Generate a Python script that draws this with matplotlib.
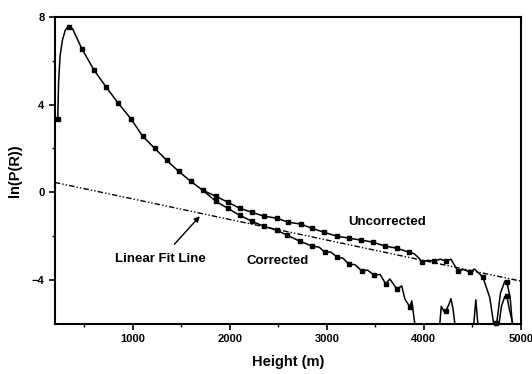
import matplotlib
matplotlib.use('Agg')
import matplotlib.pyplot as plt

plt.rcParams['font.family'] = ['Liberation Sans', 'DejaVu Sans']
plt.rcParams['font.weight'] = 'bold'

# shared start of both curves (line points)
start_h = [227, 235, 250, 275, 305, 340, 380, 474, 598, 722, 845, 979, 1103,
           1227, 1351, 1474, 1598, 1722]
start_v = [3.4, 5.0, 6.2, 6.95, 7.4, 7.6, 7.45, 6.55, 5.59, 4.82, 4.09, 3.36,
           2.55, 2.0, 1.45, 0.95, 0.5, 0.09]
start_mh = [227, 340, 474, 598, 722, 845, 979, 1103, 1227, 1351, 1474, 1598, 1722]
start_mv = [3.36, 7.55, 6.55, 5.59, 4.82, 4.09, 3.36, 2.55, 2.0, 1.45, 0.95, 0.5, 0.09]

# uncorrected tail
unc_h = [1856, 1979, 2103, 2227, 2351, 2485, 2598, 2732, 2845, 2969, 3103, 3227,
         3351, 3474, 3598, 3722, 3845, 3900, 3950, 3979, 4040, 4103, 4170, 4227,
         4280, 4351, 4410, 4474, 4520, 4608, 4680, 4730, 4742, 4790, 4835, 4856,
         4890, 4918]
unc_v = [-0.18, -0.45, -0.73, -0.91, -1.09, -1.18, -1.36, -1.45, -1.64, -1.82,
         -2.0, -2.09, -2.18, -2.27, -2.45, -2.55, -2.73, -2.8, -3.0, -3.18, -3.1,
         -3.14, -3.05, -3.14, -3.05, -3.59, -3.52, -3.64, -3.5, -3.86, -4.8,
         -6.3, -6.3, -4.6, -4.05, -4.09, -4.8, -6.3]
unc_mh = [1856, 1979, 2103, 2227, 2351, 2485, 2598, 2732, 2845, 2969, 3103, 3227,
          3351, 3474, 3598, 3722, 3845, 3979, 4103, 4227, 4351, 4474, 4608,
          4742, 4856]
unc_mv = [-0.18, -0.45, -0.73, -0.91, -1.09, -1.18, -1.36, -1.45, -1.64, -1.82,
          -2.0, -2.09, -2.18, -2.27, -2.45, -2.55, -2.73, -3.18, -3.14, -3.14,
          -3.59, -3.64, -3.86, -5.95, -4.09]

# corrected tail
cor_h = [1856, 1979, 2103, 2227, 2351, 2485, 2588, 2722, 2845, 2920, 2979, 3040,
         3103, 3165, 3227, 3290, 3361, 3420, 3485, 3550, 3608, 3649, 3722, 3773,
         3804, 3856, 3876, 3907, 3930, 4150, 4165, 4180, 4210, 4227, 4260, 4280,
         4300, 4320, 4340, 4500, 4515, 4536, 4557, 4575, 4760, 4775, 4800, 4835,
         4856, 4880, 4918, 4935]
cor_v = [-0.41, -0.73, -1.05, -1.32, -1.55, -1.73, -1.95, -2.23, -2.45, -2.5,
         -2.73, -2.72, -2.95, -3.0, -3.27, -3.3, -3.59, -3.55, -3.77, -3.75,
         -4.18, -3.95, -4.41, -4.27, -4.86, -5.23, -4.95, -6.0, -6.5, -6.5, -6.0,
         -5.2, -5.45, -5.41, -5.1, -4.85, -5.3, -6.0, -6.5, -6.5, -6.0, -4.9,
         -6.0, -6.5, -6.5, -6.0, -5.2, -4.75, -4.73, -5.3, -6.0, -6.5]
cor_mh = [1856, 1979, 2103, 2227, 2351, 2485, 2588, 2722, 2845, 2979, 3103, 3227,
          3361, 3485, 3608, 3722, 3856, 4227, 4856]
cor_mv = [-0.41, -0.73, -1.05, -1.32, -1.55, -1.73, -1.95, -2.23, -2.45, -2.73,
          -2.95, -3.27, -3.59, -3.77, -4.18, -4.41, -5.23, -5.41, -4.73]

# linear fit end points
fit_h = [196, 5000]
fit_v = [0.45, -4.05]

fig = plt.figure(figsize=(5.32, 3.74), dpi=100)
ax = fig.add_axes([0.103, 0.134, 0.876, 0.821])

ax.plot(start_h + unc_h, start_v + unc_v, color='black', lw=1.1)
ax.plot(start_h[-1:] + cor_h, start_v[-1:] + cor_v, color='black', lw=1.1)
ax.plot(start_mh + unc_mh, start_mv + unc_mv, 's', color='black', ms=3.0,
        clip_on=False)
ax.plot(cor_mh, cor_mv, 's', color='black', ms=3.0)
ax.plot(fit_h, fit_v, color='black', lw=1.0, dashes=(4, 1.5, 1, 1.5, 1, 1.5))

ax.text(3619, -1.36, 'Uncorrected', fontsize=9.5, fontweight='bold',
        ha='center', va='center')
ax.text(2495, -3.14, 'Corrected', fontsize=9.5, fontweight='bold',
        ha='center', va='center')
ax.annotate('Linear Fit Line', xy=(1691, -1.09), xytext=(1289, -3.05),
            fontsize=9.5, fontweight='bold', ha='center', va='center',
            arrowprops=dict(arrowstyle='-|>', color='black', lw=1.0,
                            shrinkA=6, shrinkB=0, mutation_scale=8))

ax.set_xlim(196, 5000)
ax.set_ylim(-6, 8)
ax.set_xticks([1000, 2000, 3000, 4000, 5000])
ax.set_xticks([500, 1500, 2500, 3500, 4500], minor=True)
ax.set_yticks([-4, 0, 4, 8])
ax.set_yticks([-2, 2, 6], minor=True)
ax.tick_params(which='major', direction='out', length=4, width=1.2,
               labelsize=8)
ax.tick_params(which='minor', direction='out', length=2.5, width=1.0)
for lab in ax.get_xticklabels() + ax.get_yticklabels():
    lab.set_fontweight('bold')
for s in ax.spines.values():
    s.set_linewidth(1.5)

ax.set_xlabel('Height (m)', fontsize=10.5, fontweight='bold', labelpad=8)
ax.set_ylabel('ln(P(R))', fontsize=10.5, fontweight='bold', labelpad=7)

fig.savefig('out.png', dpi=100)
